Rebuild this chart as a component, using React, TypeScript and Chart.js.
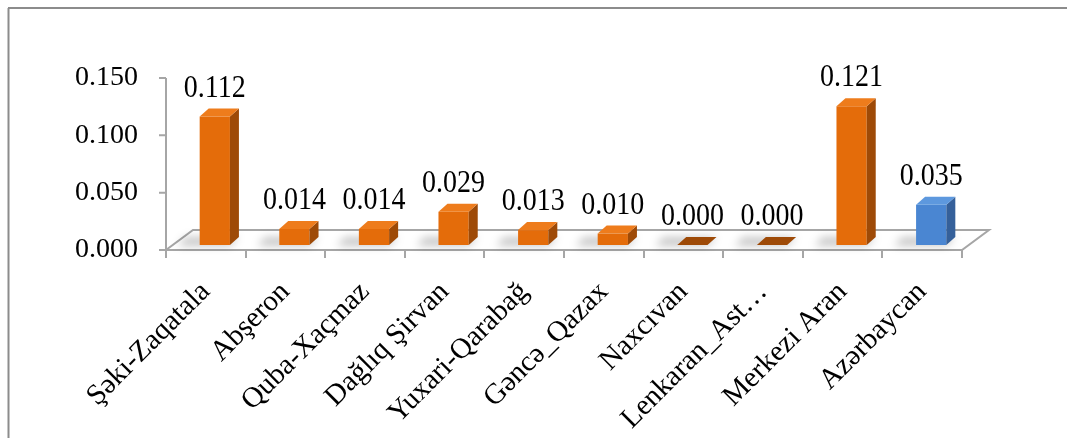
import React, { useEffect, useRef } from "react";
import { Chart, registerables } from "chart.js";

Chart.register(...registerables);

const categories = [
  "Şəki-Zaqatala",
  "Abşeron",
  "Quba-Xaçmaz",
  "Dağlıq Şirvan",
  "Yuxari-Qarabağ",
  "Gəncə_Qazax",
  "Naxcıvan",
  "Lenkaran_Ast…",
  "Merkezi Aran",
  "Azərbaycan",
];
const values = [0.112, 0.014, 0.014, 0.029, 0.013, 0.01, 0.0, 0.0, 0.121, 0.035];
const yTicks = [0, 0.05, 0.1, 0.15];

const FRONT = ["#E46C0A", "#E46C0A", "#E46C0A", "#E46C0A", "#E46C0A", "#E46C0A", "#E46C0A", "#E46C0A", "#E46C0A", "#4A86D2"];
const SIDE = ["#9E4A07", "#9E4A07", "#9E4A07", "#9E4A07", "#9E4A07", "#9E4A07", "#9E4A07", "#9E4A07", "#9E4A07", "#35609A"];
const TOP = ["#EE7C1C", "#EE7C1C", "#EE7C1C", "#EE7C1C", "#EE7C1C", "#EE7C1C", "#9E4A07", "#9E4A07", "#EE7C1C", "#5D98DE"];

const SHIFT_X = 9;
const SHIFT_Y = -5;
const DEPTH_X = 9;
const DEPTH_Y = 8;
const FLOOR_DX = 27;
const FLOOR_DY = 20;
const FONT = "'Liberation Serif', 'Times New Roman', serif";

const threeD = {
  id: "threeD",
  beforeDraw(chart: any) {
    const ctx = chart.ctx;
    ctx.save();
    ctx.fillStyle = "#ffffff";
    ctx.fillRect(0, 0, chart.width, chart.height);
    ctx.strokeStyle = "#8C8C8C";
    ctx.lineWidth = 2;
    ctx.beginPath();
    ctx.moveTo(8, 8);
    ctx.lineTo(chart.width, 8);
    ctx.moveTo(8.5, 8);
    ctx.lineTo(8.5, chart.height);
    ctx.stroke();
    ctx.restore();
  },
  beforeDatasetsDraw(chart: any) {
    const ctx = chart.ctx;
    const a = chart.chartArea;
    const y = chart.scales.y;
    const x = chart.scales.x;
    const base = y.getPixelForValue(0);
    ctx.save();
    ctx.strokeStyle = "#A6A6A6";
    ctx.lineWidth = 2;
    ctx.beginPath();
    ctx.moveTo(a.left, base);
    ctx.lineTo(a.right, base);
    ctx.lineTo(a.right + FLOOR_DX, base - FLOOR_DY);
    ctx.lineTo(a.left + FLOOR_DX, base - FLOOR_DY);
    ctx.closePath();
    ctx.stroke();
    ctx.beginPath();
    ctx.moveTo(a.left, y.getPixelForValue(yTicks[yTicks.length - 1]));
    ctx.lineTo(a.left, base);
    yTicks.forEach((t) => {
      const py = y.getPixelForValue(t);
      ctx.moveTo(a.left - 7, py);
      ctx.lineTo(a.left, py);
    });
    const n = categories.length;
    const w = (a.right - a.left) / n;
    for (let i = 0; i <= n; i++) {
      const px = Math.round(x.getPixelForValue(0) - w / 2 + i * w);
      ctx.moveTo(px, base);
      ctx.lineTo(px, base + 8);
    }
    ctx.stroke();
    const meta = chart.getDatasetMeta(0);
    ctx.filter = "blur(4px)";
    ctx.fillStyle = "rgba(0,0,0,0.22)";
    meta.data.forEach((bar: any) => {
      const half = bar.width / 2;
      const l = bar.x - half + SHIFT_X;
      const b = base + SHIFT_Y;
      ctx.beginPath();
      ctx.moveTo(l - 22, b + 1);
      ctx.lineTo(l + 2 * half, b + 1);
      ctx.lineTo(l + 2 * half + DEPTH_X, b - DEPTH_Y);
      ctx.lineTo(l - 14, b - DEPTH_Y);
      ctx.closePath();
      ctx.fill();
    });
    ctx.filter = "none";
    ctx.restore();
    ctx.save();
    ctx.translate(SHIFT_X, SHIFT_Y);
  },
  afterDatasetsDraw(chart: any) {
    const ctx = chart.ctx;
    const meta = chart.getDatasetMeta(0);
    meta.data.forEach((bar: any, i: number) => {
      const half = bar.width / 2;
      const l = bar.x - half;
      const r = bar.x + half;
      const t = bar.y;
      const b = bar.base;
      ctx.fillStyle = SIDE[i];
      ctx.beginPath();
      ctx.moveTo(r, t);
      ctx.lineTo(r + DEPTH_X, t - DEPTH_Y);
      ctx.lineTo(r + DEPTH_X, b - DEPTH_Y);
      ctx.lineTo(r, b);
      ctx.closePath();
      ctx.fill();
      ctx.fillStyle = TOP[i];
      ctx.beginPath();
      ctx.moveTo(l, t);
      ctx.lineTo(l + DEPTH_X, t - DEPTH_Y);
      ctx.lineTo(r + DEPTH_X, t - DEPTH_Y);
      ctx.lineTo(r, t);
      ctx.closePath();
      ctx.fill();
    });
    ctx.restore();
  },
  afterDraw(chart: any) {
    const ctx = chart.ctx;
    const meta = chart.getDatasetMeta(0);
    ctx.save();
    ctx.font = `28px ${FONT}`;
    ctx.fillStyle = "#000000";
    ctx.textAlign = "center";
    ctx.textBaseline = "alphabetic";
    meta.data.forEach((bar: any, i: number) => {
      const bx = bar.x + SHIFT_X;
      const by = bar.y + SHIFT_Y - 20;
      ctx.save();
      ctx.translate(bx, by);
      ctx.scale(1, 1.1);
      ctx.fillText(values[i].toFixed(3), 0, 0);
      ctx.restore();
    });
    ctx.restore();
  },
};

export default function App() {
  const ref = useRef<HTMLCanvasElement>(null);
  useEffect(() => {
    if (!ref.current) return;
    const chart = new Chart(ref.current, {
      type: "bar",
      data: {
        labels: categories,
        datasets: [
          {
            data: values,
            backgroundColor: FRONT,
            borderWidth: 0,
            categoryPercentage: 1,
            barPercentage: 0.38,
          },
        ],
      },
      options: {
        animation: false,
        responsive: false,
        events: [],
        layout: { padding: { left: 0, right: 105, top: 78, bottom: 0 } },
        plugins: { legend: { display: false }, tooltip: { enabled: false } },
        scales: {
          x: {
            grid: { display: false, drawTicks: false },
            border: { display: false },
            ticks: {
              autoSkip: false,
              minRotation: 45,
              maxRotation: 45,
              padding: 25,
              color: "#000000",
              font: { family: FONT, size: 29 },
            },
            afterFit: (s: any) => {
              s.height = 188;
            },
          },
          y: {
            min: 0,
            max: 0.15,
            grid: { display: false, drawTicks: false },
            border: { display: false },
            ticks: {
              stepSize: 0.05,
              padding: 28,
              color: "#000000",
              font: { family: FONT, size: 28 },
              callback: (v: any) => Number(v).toFixed(3),
            },
            afterFit: (s: any) => {
              s.width = 166;
            },
          },
        },
      },
      plugins: [threeD],
    });
    return () => chart.destroy();
  }, []);
  return (
    <div style={{ position: "absolute", left: 0, top: 0, width: 1067, height: 438 }}>
      <canvas ref={ref} width={1067} height={438} style={{ display: "block" }} />
    </div>
  );
}
